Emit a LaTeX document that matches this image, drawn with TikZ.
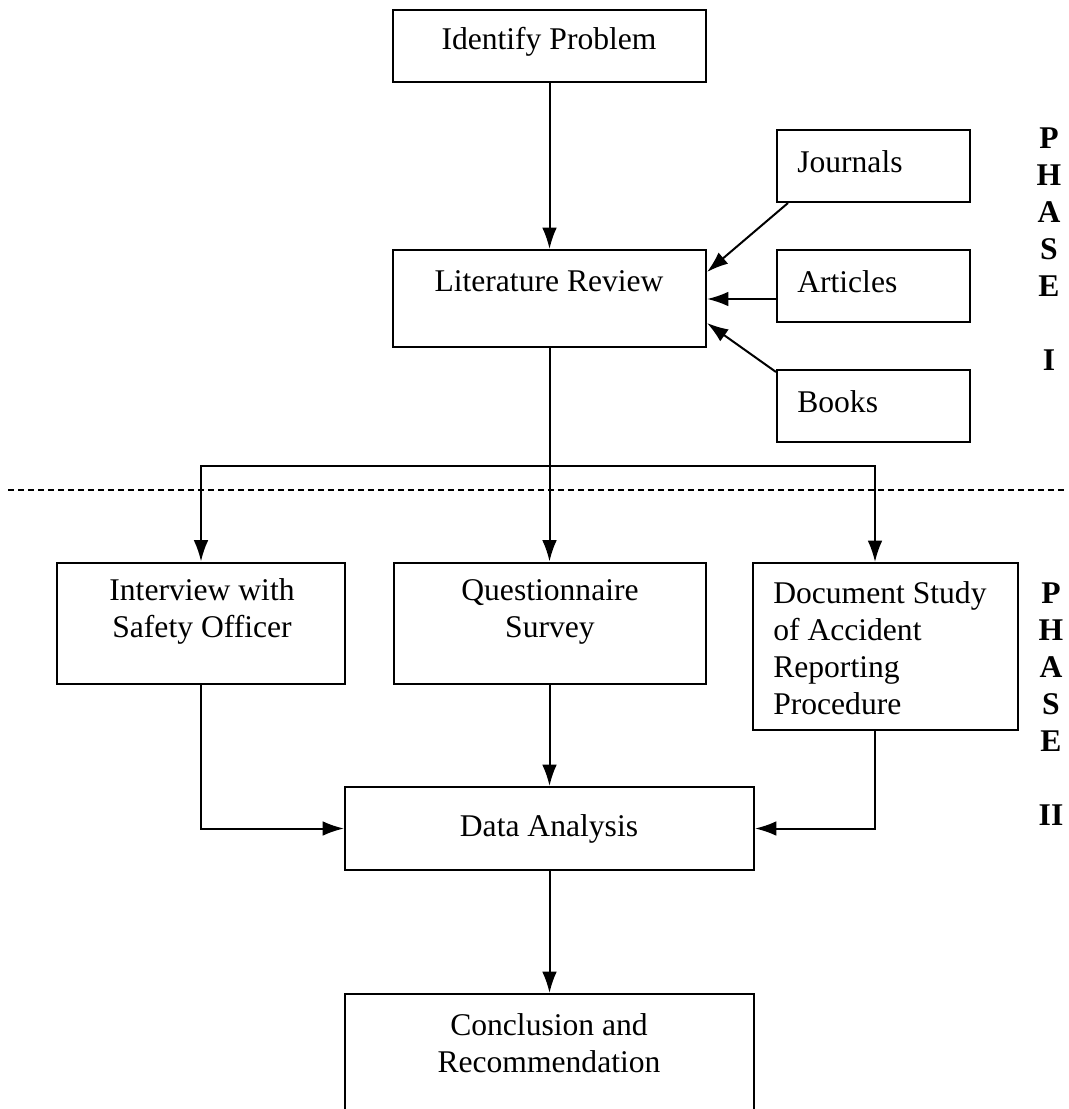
\documentclass[tikz,border=0pt]{standalone}
\usepackage{fontspec}
\setmainfont{Liberation Serif}
\usetikzlibrary{arrows.meta,calc}
\begin{document}
\begin{tikzpicture}[x=0.75pt,y=-0.75pt,
  box/.style={draw,line width=1.5pt,inner sep=0pt},
  txt/.style={inner sep=0pt,font=\fontsize{23.7}{27.75}\selectfont,align=center},
  ltxt/.style={txt,align=left,anchor=west},
  arr/.style={line width=1.5pt,-{Latex[length=16pt,width=11pt]}},
  phase/.style={inner sep=0pt,align=center,font=\fontsize{23.7}{27.75}\selectfont\bfseries}]
\path[use as bounding box] (0,0) rectangle (1068,1109);
\clip (0,0) rectangle (1068,1109);

% boxes
\node[box,minimum width=234.75pt,minimum height=54pt] (idp) at (549.5,46) {};
\node[box,minimum width=234.75pt,minimum height=72.75pt] (lit) at (549.5,298.5) {};
\node[box,minimum width=144.75pt,minimum height=54pt] (jou) at (873.5,166) {};
\node[box,minimum width=144.75pt,minimum height=54pt] (art) at (873.5,286) {};
\node[box,minimum width=144.75pt,minimum height=54pt] (boo) at (873.5,406) {};
\node[box,minimum width=216pt,minimum height=90.75pt] (int) at (201,623) {};
\node[box,minimum width=234pt,minimum height=90.75pt] (que) at (549.5,623) {};
\node[box,minimum width=198.75pt,minimum height=125.25pt] (doc) at (885.5,646.5) {};
\node[box,minimum width=306.75pt,minimum height=62.25pt] (dat) at (549.5,828.5) {};
\node[box,minimum width=306.75pt,minimum height=102pt] (con) at (549.5,1062) {};

% texts
\node[txt] (tidp) at (549,42) {Identify Problem};
\node[txt] (tlit) at (549,281) {Literature Review};
\node[ltxt] (tjou) at (797,162) {Journals};
\node[ltxt] (tart) at (797,282) {Articles};
\node[ltxt] (tboo) at (797,402) {Books};
\node[txt] (tint) at (202,611.5) {Interview with\\Safety Officer};
\node[txt] (tque) at (550,611.5) {Questionnaire\\Survey};
\node[ltxt] (tdoc) at (773,648.5) {Document Study\\of Accident\\Reporting\\Procedure};
\node[txt] (tdat) at (549,829) {Data Analysis};
\node[txt] (tcon) at (549,1043.5) {Conclusion and\\Recommendation};

% phase labels
\node[phase] (ph1) at (1049,249) {P\\H\\A\\S\\E\\\mbox{}\\I};
\node[phase] (ph2) at (1051,704) {P\\H\\A\\S\\E\\\mbox{}\\II};

% dashed separator
\coordinate (dl) at (8,490);
\coordinate (dr) at (1068,490);
\draw[line width=1.2pt,dash pattern=on 4.5pt off 3pt] (dl) -- (dr);

% connectors
\draw[arr] (idp.south) -- (lit.north);
\draw[arr] ($(jou.south west)+(12,0)$) -- ($(lit.east)+(0,-26.5)$);
\draw[arr] ($(art.west)+(0,13)$) -- ($(lit.east)+(0,0.5)$);
\draw[arr] ($(boo.north west)+(0,3)$) -- ($(lit.east)+(0,24.5)$);

\coordinate (br) at (549.5,466);
\draw[arr] (lit.south) -- (que.north);
\draw[arr] (br) -| (int.north);
\draw[arr] (br) -| ($(doc.north)+(-10.5,0)$);

\draw[arr] (int.south) |- (dat.west);
\draw[arr] (que.south) -- (dat.north);
\draw[arr] ($(doc.south)+(-10.5,0)$) |- (dat.east);
\draw[arr] (dat.south) -- (con.north);
\end{tikzpicture}
\end{document}
